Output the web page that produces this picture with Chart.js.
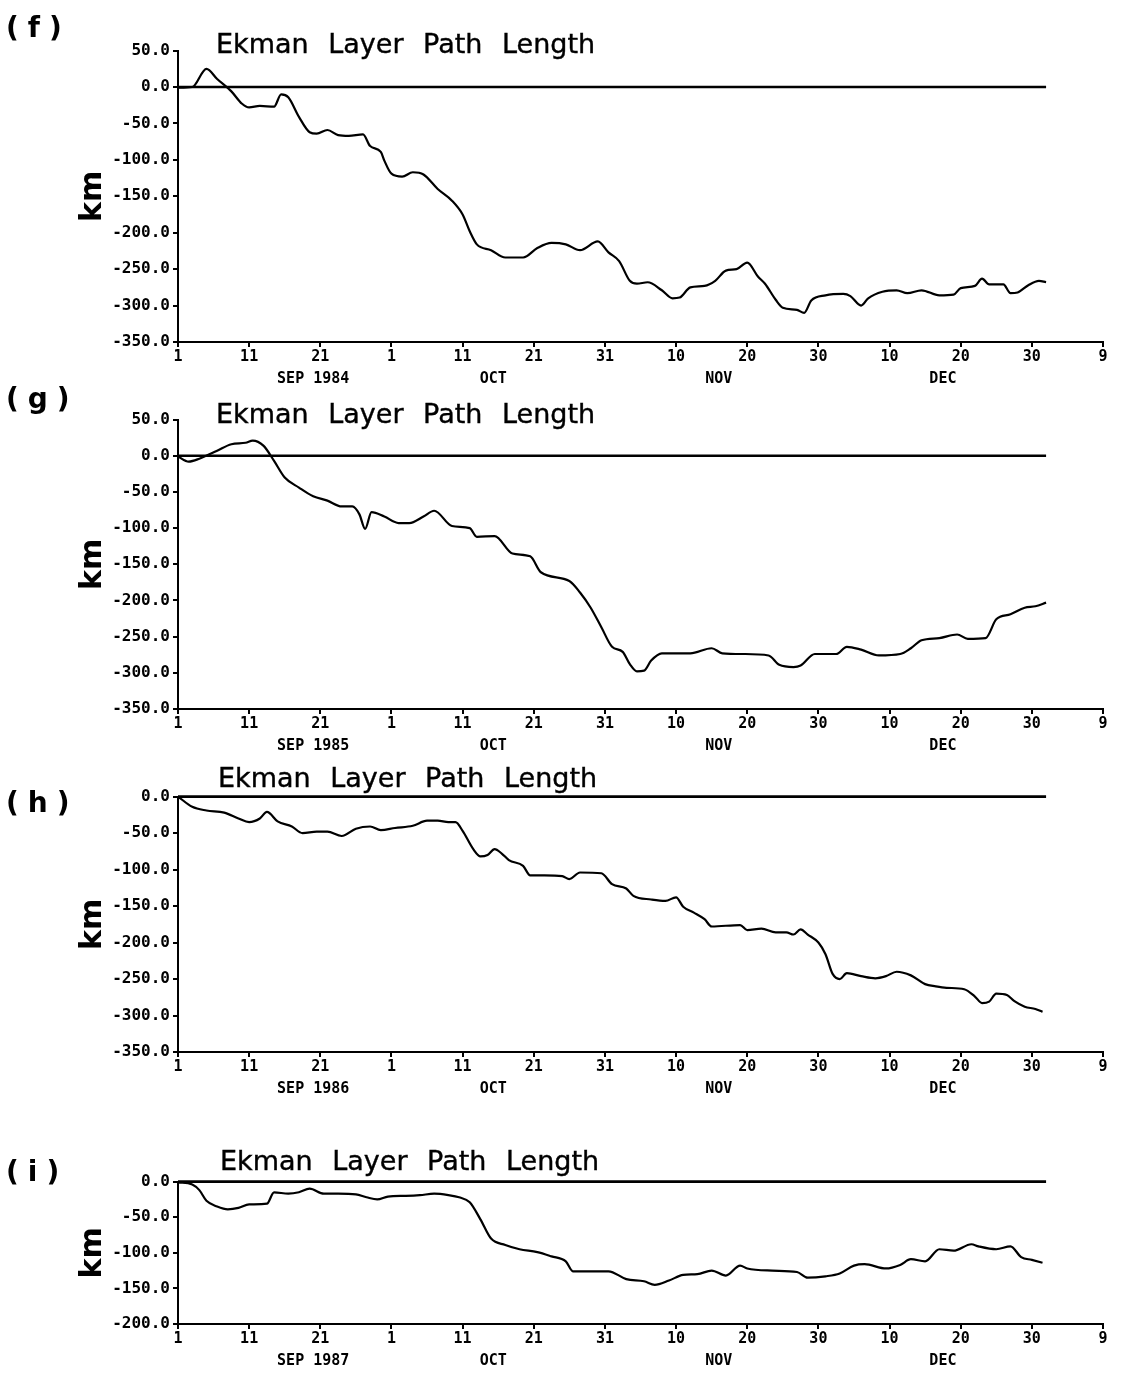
<!DOCTYPE html>
<html>
<head>
<meta charset="utf-8">
<script src="https://cdn.jsdelivr.net/npm/chart.js@4.4.1/dist/chart.umd.min.js"></script>
<style>
  html, body { margin: 0; padding: 0; background: #fff; }
  #page { position: relative; width: 1122px; height: 1379px; overflow: hidden; background: #fff; }
  .panel { position: absolute; left: 0; width: 1122px; }
  .title { position: absolute; font-family: 'DejaVu Sans'; font-size: 27px; line-height: 27px; word-spacing: 11px; color: #000; white-space: nowrap; z-index: 2; -webkit-text-stroke: 0.4px #000; }
  .tag { position: absolute; left: 6px; font-family: 'DejaVu Sans'; font-weight: bold; font-size: 28px; line-height: 28px; letter-spacing: 9px; color: #000; z-index: 2; }
</style>
</head>
<body>
<div id="page"></div>
<script>
// day 0 = 1 Sep, one tick every 10 days up to 9 Jan
const dayTickLabels = ['1', '11', '21', '1', '11', '21', '31', '10', '20', '30', '10', '20', '30', '9'];
const monthDays = [19, 44.3, 76, 107.5];
const zeroLineEnd = 122;

// (f) 1984
const fMonths = ['SEP 1984', 'OCT', 'NOV', 'DEC'];
const fDays = [0, 2, 4, 5.5, 7.5, 9, 10, 11.5, 13.5, 14.5, 15.5, 17, 18.5, 19.5, 21, 22.5, 24, 26, 27, 28.5, 29, 30,
  31.5, 33, 34.5, 36.5, 38.5, 40, 41, 42, 44, 46, 48.5, 50.5, 52.5, 54.5, 56.5, 59, 60.5, 62, 63.5, 64.5, 66, 68,
  69.5, 70.5, 72, 74, 75.5, 77, 78.5, 80, 81.5, 82.5, 84, 85, 87, 88, 89, 91, 93.5, 94.5, 96, 97, 99, 101, 102.5,
  104.5, 107, 109, 110, 112, 113, 114, 116, 117, 118, 119.5, 121, 122];
const fKm = [-1, 0, 25, 11, -6, -23, -28, -26, -27, -10, -14, -41, -62, -64, -59, -66, -67, -65, -81, -89, -101, -119,
  -123, -117, -120, -140, -156, -175, -198, -216, -224, -234, -234, -221, -214, -216, -224, -212, -227, -239, -266, -270, -268, -279,
  -290, -289, -275, -273, -266, -252, -250, -241, -260, -270, -292, -303, -306, -310, -293, -286, -284, -287, -300, -290, -281, -279, -283,
  -279, -286, -285, -276, -273, -263, -271, -271, -283, -282, -272, -266, -268];

// (g) 1985
const gMonths = ['SEP 1985', 'OCT', 'NOV', 'DEC'];
const gDays = [0, 1.5, 3, 5.5, 7.5, 9.5, 10.5, 12, 13.5, 15, 17, 19, 21, 23, 24.5, 25.5, 26.3, 27.2, 29, 31, 32.5,
  34.5, 36, 38.5, 41, 42, 44.5, 47, 49.5, 51, 55, 56.5, 58, 59.5, 61, 62.5, 63.5, 64.5, 65.5, 66.5, 68, 70, 72,
  75, 76.5, 79.5, 83, 84.5, 86.5, 87.5, 89.5, 92.5, 94, 96, 98.5, 101.5, 103, 104.5, 107, 109.5, 111, 113.5, 115,
  117, 119, 120.5, 122];
const gKm = [-1, -8, -4, 7, 16, 18, 21, 14, -7, -30, -44, -56, -62, -70, -70, -81, -101, -78, -84, -93, -93,
  -84, -76, -97, -100, -112, -111, -135, -139, -161, -173, -189, -210, -237, -264, -271, -288, -298, -297, -283, -273, -273, -273,
  -266, -273, -274, -276, -289, -292, -290, -274, -274, -264, -268, -276, -274, -266, -255, -252, -247, -253, -252, -226,
  -219, -210, -208, -203];

// (h) 1986
const hMonths = ['SEP 1986', 'OCT', 'NOV', 'DEC'];
const hDays = [0, 2, 4, 6.5, 8.5, 10, 11.5, 12.5, 14, 16, 17.5, 19.5, 21, 23, 25, 27, 28.5, 30.5, 33, 35, 36.5, 38,
  39, 40, 41.5, 42.5, 43.5, 44.5, 45.5, 46.5, 48.5, 49.5, 51.5, 54, 55, 56.5, 59.5, 61, 63, 64, 66.5, 68.5, 70, 71,
  72.5, 74, 75, 79, 80, 82, 84, 85.5, 86.5, 87.5, 88.5, 90, 91, 92, 93, 94, 96, 98, 99.5, 101, 103, 105, 106.5,
  108, 110.5, 112, 113, 114, 115, 116.5, 117.5, 119, 120.5, 121.5];
const hKm = [0, -14, -19, -22, -30, -35, -30, -21, -34, -41, -50, -48, -48, -54, -44, -41, -46, -43, -40, -33, -33, -35,
  -35, -47, -72, -82, -80, -72, -78, -87, -95, -108, -108, -109, -113, -104, -105, -120, -126, -136, -141, -143, -138, -151,
  -159, -168, -178, -176, -183, -181, -186, -186, -189, -182, -189, -200, -216, -243, -250, -242, -246, -249, -246, -240, -245, -257, -260,
  -262, -264, -274, -283, -281, -270, -272, -280, -288, -291, -295];

// (i) 1987
const iMonths = ['SEP 1987', 'OCT', 'NOV', 'DEC'];
const iDays = [0, 2, 3, 4, 5.5, 7, 8.5, 10, 12.5, 13.5, 15.5, 17, 18.5, 20.5, 22.5, 25, 26.5, 28, 29.5, 32, 34, 36,
  38, 39.5, 41, 42.5, 44, 46, 48, 50.5, 52.5, 54.5, 55.5, 60.5, 63, 65.5, 67, 69, 71, 73, 75, 77, 79, 80, 83.5,
  87, 88.5, 91, 93, 95, 96.5, 99.5, 101.5, 103, 105, 107, 109, 111.5, 112.5, 115, 117, 118.5, 120, 121.5];
const iKm = [-1, -4, -12, -27, -35, -39, -37, -32, -31, -15, -17, -15, -10, -17, -17, -18, -22, -25, -21, -20, -19, -17,
  -19, -22, -29, -53, -80, -89, -95, -99, -105, -112, -126, -126, -137, -140, -145, -139, -131, -130, -125, -132, -118, -122, -125,
  -127, -135, -133, -129, -118, -116, -122, -117, -109, -112, -95, -97, -88, -91, -95, -91, -106, -110, -114];

const panels = [
  { tag: '(f)', tagTop: 14, titleLeft: 216, titleTop: 30, plotTop: 50, plotBottom: 342, yMin: -350, yMax: 50, days: fDays, km: fKm, months: fMonths },
  { tag: '(g)', tagTop: 385, titleLeft: 216, titleTop: 400, plotTop: 419, plotBottom: 709, yMin: -350, yMax: 50, days: gDays, km: gKm, months: gMonths },
  { tag: '(h)', tagTop: 789, titleLeft: 218, titleTop: 764, plotTop: 796, plotBottom: 1052, yMin: -350, yMax: 0, days: hDays, km: hKm, months: hMonths },
  { tag: '(i)', tagTop: 1158, titleLeft: 220, titleTop: 1147, plotTop: 1181, plotBottom: 1324, yMin: -200, yMax: 0, days: iDays, km: iKm, months: iMonths }
];

const page = document.getElementById('page');
const tickFont = { family: 'DejaVu Sans Mono', weight: 'bold', size: 15, lineHeight: 1 };

function makePanel(p) {
  const padTop = 12, xAxisH = 24, monthAxisH = 26;
  const height = padTop + (p.plotBottom - p.plotTop) + xAxisH + monthAxisH;

  const wrap = document.createElement('div');
  wrap.className = 'panel';
  wrap.style.top = (p.plotTop - padTop) + 'px';
  wrap.style.height = height + 'px';
  const canvas = document.createElement('canvas');
  canvas.width = 1122;
  canvas.height = height;
  wrap.appendChild(canvas);
  page.appendChild(wrap);

  const tag = document.createElement('div');
  tag.className = 'tag';
  tag.style.top = p.tagTop + 'px';
  tag.textContent = p.tag;
  page.appendChild(tag);

  const title = document.createElement('div');
  title.className = 'title';
  title.style.left = p.titleLeft + 'px';
  title.style.top = p.titleTop + 'px';
  title.textContent = 'Ekman Layer Path Length';
  page.appendChild(title);

  new Chart(canvas, {
    type: 'line',
    data: {
      datasets: [
        {
          data: p.days.map((d, i) => ({ x: d, y: p.km[i] })),
          borderColor: '#000',
          borderWidth: 2.2,
          pointRadius: 0,
          cubicInterpolationMode: 'monotone',
          clip: 8
        },
        {
          data: [{ x: 0, y: 0 }, { x: zeroLineEnd, y: 0 }],
          borderColor: '#000',
          borderWidth: 2.6,
          pointRadius: 0,
          clip: 8
        }
      ]
    },
    options: {
      responsive: false,
      animation: false,
      layout: { padding: { top: padTop, right: 1122 - 1103, left: 0, bottom: 0 } },
      plugins: { legend: { display: false }, tooltip: { enabled: false } },
      scales: {
        x: {
          type: 'linear', min: 0, max: 130, position: 'bottom',
          ticks: {
            stepSize: 10, autoSkip: false, maxRotation: 0, padding: 3, color: '#000', font: tickFont,
            callback: v => dayTickLabels[Math.round(v / 10)]
          },
          grid: { drawOnChartArea: false, tickLength: 5, color: '#000', lineWidth: 2 },
          border: { color: '#000', width: 2 },
          afterFit: s => { s.height = xAxisH; }
        },
        month: {
          type: 'linear', min: 0, max: 130, position: 'bottom',
          grid: { display: false, drawTicks: false },
          border: { display: false },
          afterBuildTicks: s => { s.ticks = monthDays.map(v => ({ value: v })); },
          ticks: {
            autoSkip: false, maxRotation: 0, padding: 6, color: '#000',
            font: { family: 'DejaVu Sans Mono', weight: 'bold', size: 15, lineHeight: 1 },
            callback: v => p.months[monthDays.indexOf(v)]
          },
          afterFit: s => { s.height = monthAxisH; }
        },
        y: {
          min: p.yMin, max: p.yMax,
          ticks: {
            stepSize: 50, color: '#000', padding: 3,
            font: { family: 'DejaVu Sans Mono', weight: 'bold', size: 16 },
            callback: v => v.toFixed(1)
          },
          grid: { drawOnChartArea: false, tickLength: 5, color: '#000', lineWidth: 2 },
          border: { color: '#000', width: 2 },
          title: {
            display: true, text: 'km', color: '#000',
            font: { family: 'DejaVu Sans', weight: 'bold', size: 30 },
            padding: { top: 75, bottom: 0 }
          },
          afterFit: s => { s.width = 178; }
        }
      }
    }
  });
}

panels.forEach(makePanel);
</script>
</body>
</html>
